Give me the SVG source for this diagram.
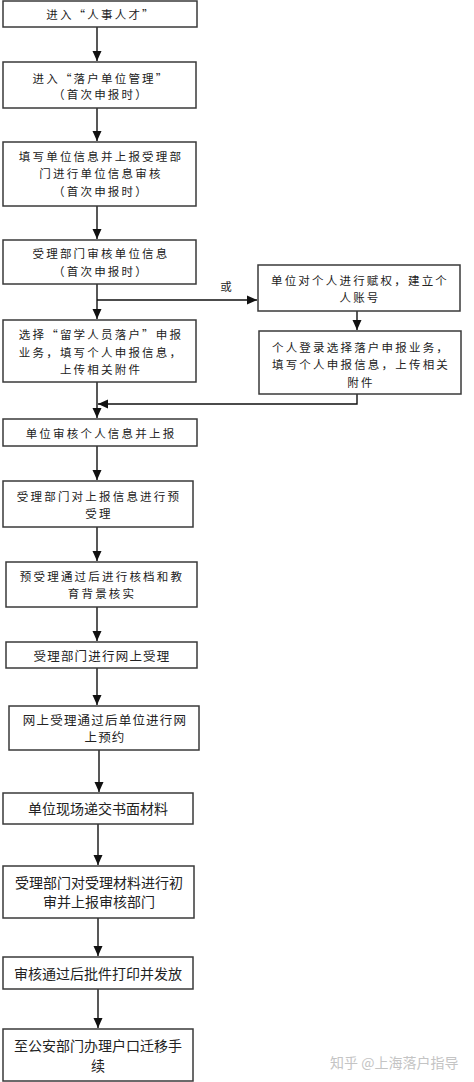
<svg xmlns="http://www.w3.org/2000/svg" width="474" height="1082" viewBox="0 0 474 1082">
<defs>
<marker id="ah" markerUnits="userSpaceOnUse" markerWidth="10" markerHeight="10" viewBox="0 0 10 10" refX="10" refY="5" orient="auto">
<path d="M0,0.5 L10,5 L0,9.5 z" fill="#111"/>
</marker>
<style>
.box{fill:#fff;stroke:#3a3a3a;stroke-width:1.5}
.s{font-family:"Noto Sans CJK SC","Liberation Sans",sans-serif;font-size:11.5px;letter-spacing:2.2px;fill:#222;text-anchor:middle;dominant-baseline:central}
.m{font-family:"Noto Sans CJK SC","Liberation Sans",sans-serif;font-size:12.5px;letter-spacing:1.2px;fill:#222;text-anchor:middle;dominant-baseline:central}
.l{font-family:"Noto Sans CJK SC","Liberation Sans",sans-serif;font-size:14px;fill:#222;text-anchor:middle;dominant-baseline:central}
.c{stroke:#111;stroke-width:1.4;fill:none}
.wm{font-family:"Noto Sans CJK SC","Liberation Sans",sans-serif;font-size:14px;fill:#c4c4c4;dominant-baseline:central}
</style>
</defs>
<rect width="474" height="1082" fill="#fff"/>
<g id="connectors">
<path class="c" d="M97,27 V61" marker-end="url(#ah)"/>
<path class="c" d="M97,108 V141" marker-end="url(#ah)"/>
<path class="c" d="M97,206 V239" marker-end="url(#ah)"/>
<path class="c" d="M97,284 V319" marker-end="url(#ah)"/>
<path class="c" d="M97,300 H257" marker-end="url(#ah)"/>
<path class="c" d="M357,311 V330" marker-end="url(#ah)"/>
<path class="c" d="M97,382 V418" marker-end="url(#ah)"/>
<path class="c" d="M357,394 V404 H98" marker-end="url(#ah)"/>
<path class="c" d="M97,446 V480" marker-end="url(#ah)"/>
<path class="c" d="M97,527 V561" marker-end="url(#ah)"/>
<path class="c" d="M97,607 V641" marker-end="url(#ah)"/>
<path class="c" d="M97,668 V705" marker-end="url(#ah)"/>
<path class="c" d="M99,750 V792" marker-end="url(#ah)"/>
<path class="c" d="M98,824 V865" marker-end="url(#ah)"/>
<path class="c" d="M98,918 V956" marker-end="url(#ah)"/>
<path class="c" d="M98,989 V1028" marker-end="url(#ah)"/>
<text class="s" x="227" y="286">或</text>
</g>
<g id="n1"><rect class="box" x="3" y="1" width="194" height="26"/><text class="s" x="101" y="14">进入“人事人才”</text></g>
<g id="n2"><rect class="box" x="3" y="62" width="193" height="46"/><text class="s" x="101" y="78">进入“落户单位管理”</text><text class="s" x="101" y="94">（首次申报时）</text></g>
<g id="n3"><rect class="box" x="3" y="142" width="193" height="64"/><text class="s" x="101" y="156">填写单位信息并上报受理部</text><text class="s" x="101" y="173">门进行单位信息审核</text><text class="s" x="101" y="191">（首次申报时）</text></g>
<g id="n4"><rect class="box" x="3" y="240" width="193" height="44"/><text class="s" x="101" y="253">受理部门审核单位信息</text><text class="s" x="101" y="271">（首次申报时）</text></g>
<g id="n5"><rect class="box" x="3" y="320" width="193" height="62"/><text class="s" x="101" y="334">选择“留学人员落户”申报</text><text class="s" x="101" y="352">业务，填写个人申报信息，</text><text class="s" x="101" y="369">上传相关附件</text></g>
<g id="nA"><rect class="box" x="258" y="265" width="202" height="46"/><text class="s" x="360" y="280">单位对个人进行赋权，建立个</text><text class="s" x="360" y="297">人账号</text></g>
<g id="nB"><rect class="box" x="259" y="331" width="202" height="63"/><text class="s" x="361" y="347">个人登录选择落户申报业务，</text><text class="s" x="361" y="364">填写个人申报信息，上传相关</text><text class="s" x="361" y="382">附件</text></g>
<g id="n6"><rect class="box" x="3" y="419" width="194" height="27"/><text class="s" x="101" y="433">单位审核个人信息并上报</text></g>
<g id="n7"><rect class="box" x="3" y="481" width="190" height="46"/><text class="s" x="99" y="496">受理部门对上报信息进行预</text><text class="s" x="99" y="513">受理</text></g>
<g id="n8"><rect class="box" x="6" y="562" width="191" height="45"/><text class="s" x="102" y="576">预受理通过后进行核档和教</text><text class="s" x="102" y="593">育背景核实</text></g>
<g id="n9"><rect class="box" x="6" y="642" width="191" height="26"/><text class="m" x="102" y="655">受理部门进行网上受理</text></g>
<g id="n10"><rect class="box" x="9" y="706" width="190" height="44"/><text class="m" x="105" y="719">网上受理通过后单位进行网</text><text class="m" x="105" y="736">上预约</text></g>
<g id="n11"><rect class="box" x="3" y="793" width="190" height="31"/><text class="l" x="98" y="808">单位现场递交书面材料</text></g>
<g id="n12"><rect class="box" x="3" y="866" width="191" height="52"/><text class="l" x="99" y="882">受理部门对受理材料进行初</text><text class="l" x="99" y="901">审并上报审核部门</text></g>
<g id="n13"><rect class="box" x="3" y="957" width="190" height="32"/><text class="l" x="98" y="973">审核通过后批件打印并发放</text></g>
<g id="n14"><rect class="box" x="3" y="1029" width="190" height="52"/><text class="l" x="98" y="1045">至公安部门办理户口迁移手</text><text class="l" x="98" y="1065">续</text></g>
<text class="wm" x="330" y="1062">知乎 @上海落户指导</text>
</svg>
